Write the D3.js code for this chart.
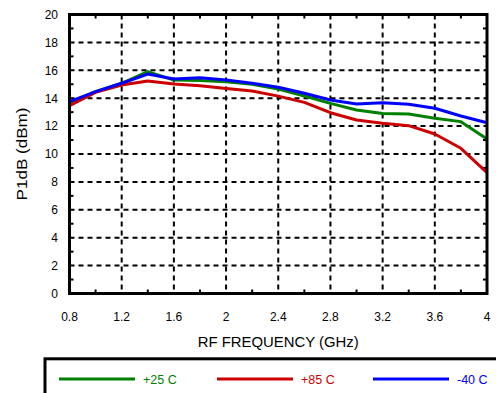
<!DOCTYPE html>
<html><head><meta charset="utf-8">
<script src="https://cdn.jsdelivr.net/npm/d3@7"></script>
<style>body{margin:0;background:#fff}svg{display:block;font-family:"Liberation Sans",Arial,Helvetica,sans-serif}</style>
</head><body><svg id="c" width="496" height="393"></svg>
<script>
const freqs = [0.8,1.0,1.2,1.4,1.6,1.8,2.0,2.2,2.4,2.6,2.8,3.0,3.2,3.4,3.6,3.8,4.0];
const p25 = [13.63,14.47,15.07,15.9,15.3,15.26,15.18,15.0,14.66,14.16,13.63,13.15,12.91,12.87,12.56,12.32,11.07];
const p85 = [13.46,14.42,14.95,15.23,15.02,14.9,14.7,14.52,14.15,13.7,12.96,12.44,12.2,12.03,11.43,10.41,8.66];
const m40 = [13.75,14.47,15.07,15.73,15.38,15.47,15.3,15.07,14.78,14.35,13.87,13.58,13.68,13.56,13.28,12.72,12.24];
const xTicks = [0.8,1.2,1.6,2.0,2.4,2.8,3.2,3.6,4.0];
const xMinor = [1.0,1.4,1.8,2.2,2.6,3.0,3.4,3.8];
const yTicks = [0,2,4,6,8,10,12,14,16,18,20];
const yMinor = [1,3,5,7,9,11,13,15,17,19];
const seriesNames = ["+25 C","+85 C","-40 C"];
const seriesColors = ["#008000","#cc0000","#0000ff"];
const seriesData = [p25,p85,m40];

const svg = d3.select("#c");
const L=69.5,R=487,T=14.5,B=293.5;
const x = d3.scaleLinear().domain([0.8,4]).range([L,R]);
const y = d3.scaleLinear().domain([0,20]).range([B,T]);

// grid
const g = svg.append("g");
g.selectAll(".vg").data(xTicks.slice(1,-1)).join("line")
 .attr("x1",d=>x(d)).attr("x2",d=>x(d)).attr("y1",T).attr("y2",B)
 .attr("stroke","#000").attr("stroke-width",2).attr("stroke-dasharray","5,4");
g.selectAll(".hg").data(yTicks.slice(1,-1)).join("line")
 .attr("x1",L).attr("x2",R).attr("y1",d=>y(d)).attr("y2",d=>y(d))
 .attr("stroke","#000").attr("stroke-width",2).attr("stroke-dasharray","5,4");

// minor ticks
const tl=4;
g.selectAll(".mt").data(xMinor).join("line").attr("x1",d=>x(d)).attr("x2",d=>x(d)).attr("y1",T).attr("y2",T+tl).attr("stroke","#000").attr("stroke-width",2);
g.selectAll(".mb").data(xMinor).join("line").attr("x1",d=>x(d)).attr("x2",d=>x(d)).attr("y1",B).attr("y2",B-tl).attr("stroke","#000").attr("stroke-width",2);
g.selectAll(".ml").data(yMinor).join("line").attr("x1",L).attr("x2",L+tl).attr("y1",d=>y(d)).attr("y2",d=>y(d)).attr("stroke","#000").attr("stroke-width",2);
g.selectAll(".mr").data(yMinor).join("line").attr("x1",R).attr("x2",R-tl).attr("y1",d=>y(d)).attr("y2",d=>y(d)).attr("stroke","#000").attr("stroke-width",2);

// lines
const line = d3.line().x((d,i)=>x(freqs[i])).y(d=>y(d));
seriesData.forEach((s,k)=>{
  svg.append("path").datum(s).attr("d",line).attr("fill","none")
   .attr("stroke",seriesColors[k]).attr("stroke-width",3).attr("stroke-linejoin","round");
});

// frame
svg.append("rect").attr("x",L).attr("y",T).attr("width",R-L).attr("height",B-T)
 .attr("fill","none").attr("stroke","#000").attr("stroke-width",3);

// tick labels
svg.selectAll(".xl").data(xTicks).join("text").attr("x",d=>x(d)).attr("y",321)
 .attr("text-anchor","middle").attr("font-size",12).text(d=>d3.format("~g")(d));
svg.selectAll(".yl").data(yTicks).join("text").attr("x",58).attr("y",d=>y(d)+4.3)
 .attr("text-anchor","end").attr("font-size",12).text(d=>d);

// axis titles
svg.append("text").attr("x",(L+R)/2).attr("y",347).attr("text-anchor","middle").attr("font-size",14)
 .attr("textLength",161).attr("lengthAdjust","spacingAndGlyphs").text("RF FREQUENCY (GHz)");
svg.append("text").attr("transform",`translate(26.5,${(T+B)/2}) rotate(-90)`).attr("text-anchor","middle").attr("font-size",15)
 .attr("textLength",93).attr("lengthAdjust","spacingAndGlyphs").text("P1dB (dBm)");

// legend
svg.append("rect").attr("x",45).attr("y",358.8).attr("width",470).attr("height",60).attr("fill","none").attr("stroke","#000").attr("stroke-width",3);
const lx=[59,217,373];
seriesNames.forEach((n,k)=>{
  svg.append("line").attr("x1",lx[k]).attr("x2",lx[k]+76).attr("y1",379).attr("y2",379).attr("stroke",seriesColors[k]).attr("stroke-width",3);
  svg.append("text").attr("x",lx[k]+84).attr("y",383.5).attr("font-size",12.5).attr("fill",seriesColors[k]).text(n);
});
</script></body></html>
